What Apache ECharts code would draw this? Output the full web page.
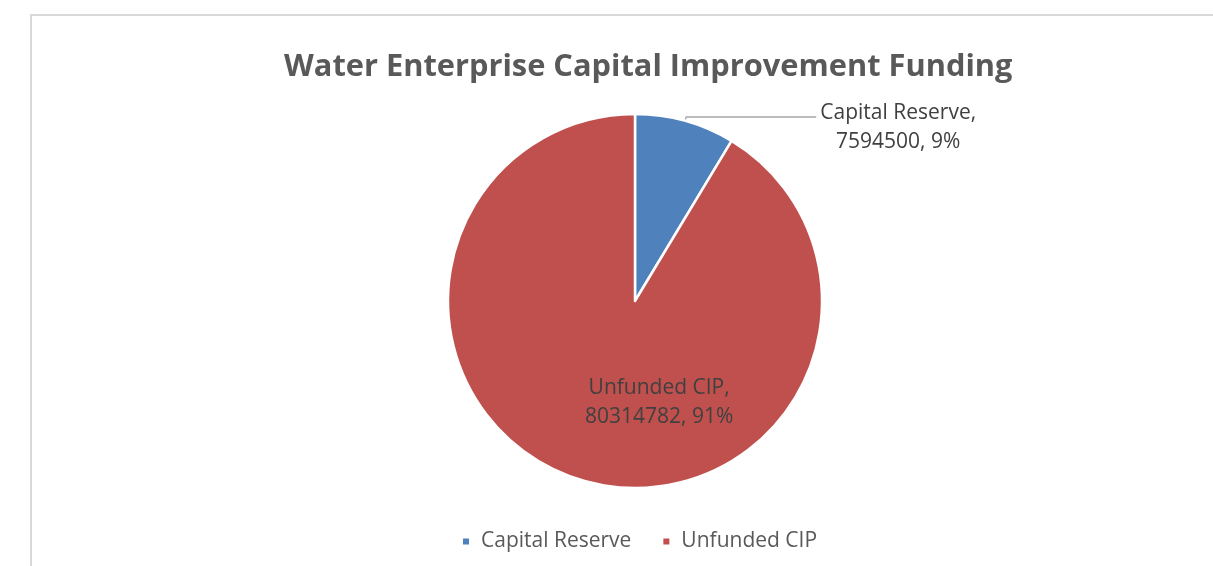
<!DOCTYPE html>
<html>
<head>
<meta charset="utf-8">
<script src="https://cdn.jsdelivr.net/npm/echarts@6/dist/echarts.min.js"></script>
<style>
html,body{margin:0;padding:0;background:#fff;}
#main{width:1213px;height:566px;}
</style>
</head>
<body>
<div id="main"></div>
<script>
const titleText = 'Water Enterprise Capital Improvement Funding';
const categories = ['Capital Reserve', 'Unfunded CIP'];
const values = [7594500, 80314782];
const colors = ['#4f81bd', '#c0504d'];

const FONT = '"Open Sans", "Noto Sans", sans-serif';
const total = values.reduce((a, b) => a + b, 0);

const chart = echarts.init(document.getElementById('main'));
chart.setOption({
  backgroundColor: '#ffffff',
  animation: false,
  graphic: [{
    type: 'rect',
    shape: { x: 31, y: 15, width: 1300, height: 700 },
    style: { fill: 'none', stroke: '#d9d9d9', lineWidth: 2 },
    silent: true
  }],
  title: {
    text: titleText,
    left: 279,
    top: 47,
    textStyle: { fontFamily: FONT, fontWeight: 'bold', fontSize: 30.8, color: '#595959' }
  },
  legend: {
    bottom: 9,
    left: 456,
    icon: 'rect',
    itemWidth: 8,
    itemHeight: 8,
    itemGap: 30,
    data: categories,
    textStyle: { fontFamily: FONT, fontSize: 21, color: '#595959', padding: [0, 0, 0, 6] }
  },
  series: [{
    type: 'pie',
    center: [635, 301],
    radius: [0, 187],
    startAngle: 90,
    clockwise: true,
    avoidLabelOverlap: false,
    itemStyle: { borderColor: '#ffffff', borderWidth: 2.5 },
    data: categories.map((c, i) => {
      const pct = Math.round(values[i] / total * 100);
      const d = { name: c, value: values[i], itemStyle: { color: colors[i] } };
      if (i === 0) {
        d.label = {
          show: true,
          position: 'outside',
          distanceToLabelLine: 2,
          formatter: '{a|' + c + ',}\n{a|' + values[i] + ', ' + pct + '%}',
          padding: [22, 0, 0, 0],
          rich: { a: { width: 160, align: 'center', fontFamily: FONT, fontSize: 21, color: '#404040', lineHeight: 29 } }
        };
        d.labelLine = { show: true, length: 4, length2: 130, smooth: false, lineStyle: { color: '#a6a6a6', width: 1.3 } };
      } else {
        d.label = {
          show: true,
          position: 'inside',
          formatter: c + ',\n' + values[i] + ', ' + pct + '%',
          fontFamily: FONT, fontSize: 21, color: '#404040', lineHeight: 29, align: 'center'
        };
      }
      return d;
    }),
    labelLayout: function (p) {
      if (p.dataIndex === 1) return { dx: 50, dy: 9 };
      return {};
    }
  }]
});
</script>
</body>
</html>
